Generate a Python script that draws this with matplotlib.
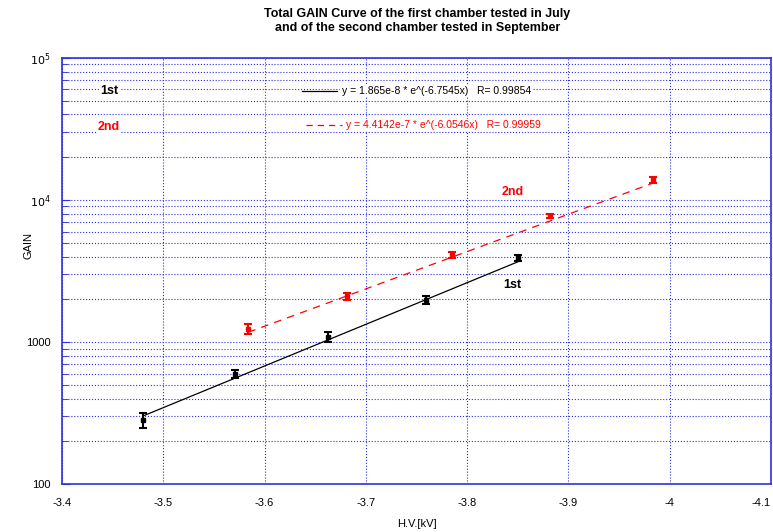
import numpy as np
import matplotlib
matplotlib.use("Agg")
import matplotlib.pyplot as plt
from matplotlib.ticker import FixedLocator, FixedFormatter, LogLocator, NullFormatter

plt.rcParams['font.family'] = ['Liberation Sans', 'DejaVu Sans']

# first chamber (July)
hv_1st = [-3.480, -3.571, -3.663, -3.759, -3.850]
gain_1st = [282, 596, 1084, 1976, 3905]
err_1st = [35, 40, 90, 120, 200]

# second chamber (September)
hv_2nd = [-3.584, -3.681, -3.785, -3.882, -3.984]
gain_2nd = [1235, 2108, 4100, 7713, 13830]
err_2nd = [100, 120, 180, 300, 600]

# exponential fits y = a * exp(b * x)
fit_1st = (1.865e-8, -6.7545, 0.99854)
fit_2nd = (4.4142e-7, -6.0546, 0.99959)

grid_blue = '#3030e0'

fig = plt.figure(figsize=(7.73, 5.32), dpi=100)
ax = fig.add_axes([0.0802, 0.0902, 0.9172, 0.8008])

ax.set_yscale('log')
ax.set_xlim(-3.4, -4.1)
ax.set_ylim(100, 1e5)

# fit curves
xs1 = np.linspace(hv_1st[0], hv_1st[-1], 50)
ax.plot(xs1, fit_1st[0] * np.exp(fit_1st[1] * xs1), color='black', lw=0.9)
xs2 = np.linspace(hv_2nd[0], hv_2nd[-1], 50)
ax.plot(xs2, fit_2nd[0] * np.exp(fit_2nd[1] * xs2), color='red', lw=0.9,
        dashes=(6, 5))

ax.errorbar(hv_1st, gain_1st, yerr=err_1st, fmt='s', color='black', ms=3.5,
            capsize=3, elinewidth=1.5, capthick=1.5)
ax.errorbar(hv_2nd, gain_2nd, yerr=err_2nd, fmt='s', color='red', ms=3.5,
            capsize=3, elinewidth=1.5, capthick=1.5)

# grid and frame
ax.xaxis.set_major_locator(FixedLocator([-3.4, -3.5, -3.6, -3.7, -3.8, -3.9, -4.0, -4.1]))
ax.xaxis.set_major_formatter(FixedFormatter(['-3.4', '-3.5', '-3.6', '-3.7', '-3.8', '-3.9', '-4', '-4.1']))
ax.yaxis.set_major_locator(FixedLocator([100, 1000, 1e4, 1e5]))
ax.yaxis.set_major_formatter(FixedFormatter(['100', '1000', '$10^4$', '$10^5$']))
ax.yaxis.set_minor_locator(LogLocator(base=10, subs=np.arange(2, 10)))
ax.yaxis.set_minor_formatter(NullFormatter())

ax.grid(True, which='major', axis='both', color=grid_blue, ls=':', lw=0.8)
ax.grid(True, which='minor', axis='y', color=grid_blue, ls=':', lw=0.8)
for s in ax.spines.values():
    s.set_color(grid_blue)
    s.set_linewidth(1.2)
ax.tick_params(axis='both', which='both', direction='in', colors=grid_blue,
               labelcolor='black', labelsize=8)
ax.tick_params(axis='x', which='major', length=0, pad=10)
ax.tick_params(axis='y', which='major', length=6, pad=8)
ax.tick_params(axis='y', which='minor', length=4)
# keep the last x label inside the figure
ax.get_xticklabels()[-1].set_horizontalalignment('right')

ax.set_xlabel('H.V.[kV]', fontsize=8, labelpad=8)
ax.set_ylabel('GAIN', fontsize=8)
ax.yaxis.set_label_coords(-0.04, 0.56)

fig.text(0.54, 0.985, 'Total GAIN Curve of the first chamber tested in July\n'
         'and of the second chamber tested in September',
         ha='center', va='top', fontsize=9, fontweight='bold', linespacing=1.2)

# legend block
ax.text(-3.447, 10 ** (5 - 33 / 142), '1st', fontsize=9, fontweight='bold',
        color='black', va='center', ha='center',
        bbox=dict(fc='white', ec='none', pad=1))
ax.text(-3.446, 10 ** (5 - 69 / 142), '2nd', fontsize=9, fontweight='bold',
        color='red', va='center', ha='center',
        bbox=dict(fc='white', ec='none', pad=1))
ax.plot([-3.637, -3.672], [10 ** (5 - 33 / 142)] * 2, color='black', lw=0.9)
ax.text(-3.676, 10 ** (5 - 33 / 142),
        'y = %.4ge-8 * e^(%.5gx)   R= %.5f' % (fit_1st[0] * 1e8, fit_1st[1], fit_1st[2]),
        fontsize=7.5, color='black', va='center', ha='left',
        bbox=dict(fc='white', ec='none', pad=1))
ax.plot([-3.641, -3.676], [10 ** (5 - 67 / 142)] * 2, color='red', lw=0.9,
        dashes=(5, 4))
ax.text(-3.68, 10 ** (5 - 67 / 142),
        'y = %.5ge-7 * e^(%.5gx)   R= %.5f' % (fit_2nd[0] * 1e7, fit_2nd[1], fit_2nd[2]),
        fontsize=7.5, color='red', va='center', ha='left',
        bbox=dict(fc='white', ec='none', pad=1))

# curve labels
ax.text(-3.845, 10 ** (5 - 134 / 142), '2nd', fontsize=9, fontweight='bold',
        color='red', ha='center', va='center')
ax.text(-3.845, 10 ** (5 - 227 / 142), '1st', fontsize=9, fontweight='bold',
        color='black', ha='center', va='center')

fig.savefig('out.png', dpi=100)
